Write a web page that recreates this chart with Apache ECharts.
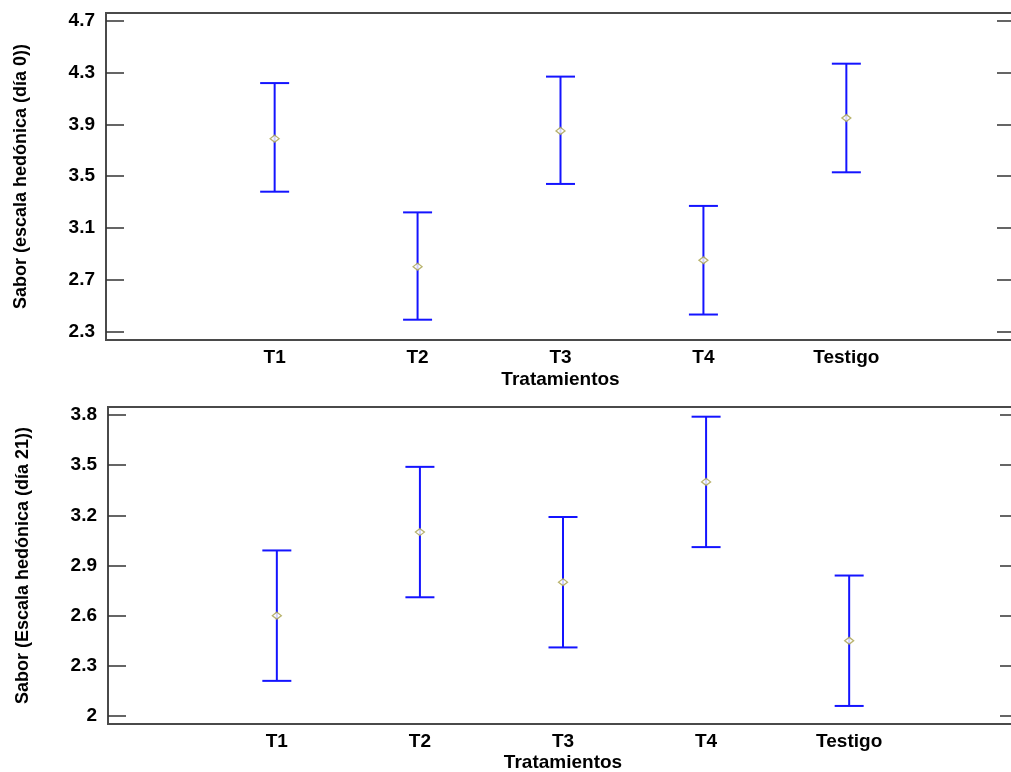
<!DOCTYPE html>
<html>
<head>
<meta charset="utf-8">
<title>Sabor por tratamiento</title>
<script src="https://cdn.jsdelivr.net/npm/echarts@6/dist/echarts.min.js"></script>
<style>
  html, body { margin: 0; padding: 0; background: #fff; overflow: hidden; }
  #chart { width: 1011px; height: 772px; }
</style>
</head>
<body>
<div id="chart"></div>
<script>
// Treatments on the x axis (plotted at positions 1..5)
const categories = ['T1', 'T2', 'T3', 'T4', 'Testigo'];

// Day 0: means and interval limits
const mean0 = [3.79, 2.80, 3.85, 2.85, 3.95];
const low0  = [3.38, 2.39, 3.44, 2.43, 3.53];
const high0 = [4.22, 3.22, 4.27, 3.27, 4.37];

// Day 21: means and interval limits
const mean21 = [2.60, 3.10, 2.80, 3.40, 2.45];
const low21  = [2.21, 2.71, 2.41, 3.01, 2.06];
const high21 = [2.99, 3.49, 3.19, 3.79, 2.84];

// Tick values on each y axis
const ticks0  = [2.3, 2.7, 3.1, 3.5, 3.9, 4.3, 4.7];
const ticks21 = [2.0, 2.3, 2.6, 2.9, 3.2, 3.5, 3.8];

const FONT = "'Liberation Sans', Arial, sans-serif";
const positions = categories.map((_, i) => i + 1);

function xAxisFor(gridIndex, gap) {
  return {
    type: 'value', gridIndex: gridIndex, min: -0.18, max: 6.18,
    name: 'Tratamientos', nameLocation: 'middle', nameGap: gap,
    nameTextStyle: { fontFamily: FONT, fontWeight: 'bold', fontSize: 19, color: '#000' },
    axisLine: { show: false, onZero: false },
    axisTick: { show: false },
    splitLine: { show: false },
    axisLabel: {
      customValues: positions,
      formatter: v => categories[Math.round(v) - 1] || '',
      margin: 8, fontFamily: FONT, fontWeight: 'bold', fontSize: 19, color: '#000'
    }
  };
}

function yAxesFor(gridIndex, min, max, ticks, title) {
  const tick = { show: true, inside: true, length: 18, customValues: ticks,
                 lineStyle: { color: '#333', width: 1.5 } };
  return [
    {
      type: 'value', gridIndex: gridIndex, min: min, max: max, position: 'left',
      name: title, nameLocation: 'middle', nameGap: 76, nameRotate: 90,
      nameTextStyle: { fontFamily: FONT, fontWeight: 'bold', fontSize: 18, color: '#000' },
      axisLine: { show: false, onZero: false },
      axisTick: tick,
      splitLine: { show: false },
      axisLabel: { customValues: ticks, margin: 11, fontFamily: FONT, fontWeight: 'bold', fontSize: 19, color: '#000' }
    },
    {
      type: 'value', gridIndex: gridIndex, min: min, max: max, position: 'right',
      axisLine: { show: false, onZero: false },
      axisTick: tick,
      splitLine: { show: false },
      axisLabel: { show: false }
    }
  ];
}

// Vertical interval with horizontal caps
function intervalSeries(xi, yi, low, high) {
  return {
    type: 'custom', xAxisIndex: xi, yAxisIndex: yi,
    data: positions.map((p, i) => [p, low[i], high[i]]),
    renderItem: (params, api) => {
      const lo = api.coord([api.value(0), api.value(1)]);
      const hi = api.coord([api.value(0), api.value(2)]);
      const w = 14.5;
      const style = { stroke: '#1414ff', lineWidth: 2 };
      return {
        type: 'group',
        children: [
          { type: 'line', shape: { x1: lo[0], y1: lo[1], x2: hi[0], y2: hi[1] }, style: style },
          { type: 'line', shape: { x1: hi[0] - w, y1: hi[1], x2: hi[0] + w, y2: hi[1] }, style: style },
          { type: 'line', shape: { x1: lo[0] - w, y1: lo[1], x2: lo[0] + w, y2: lo[1] }, style: style }
        ]
      };
    },
    z: 2
  };
}

function meanSeries(xi, yi, mean) {
  return {
    type: 'scatter', xAxisIndex: xi, yAxisIndex: yi,
    data: positions.map((p, i) => [p, mean[i]]),
    symbol: 'diamond', symbolSize: [9, 7],
    itemStyle: { color: '#fff', borderColor: '#a8a048', borderWidth: 1.3 },
    z: 3
  };
}

const chart = echarts.init(document.getElementById('chart'), null, { renderer: 'canvas' });
chart.setOption({
  animation: false,
  backgroundColor: '#fff',
  grid: [
    { left: 106, width: 909, top: 13, height: 327, outerBoundsMode: 'none',
      show: true, borderColor: '#4a4a4a', borderWidth: 2 },
    { left: 108, width: 910, top: 407, height: 317, outerBoundsMode: 'none',
      show: true, borderColor: '#4a4a4a', borderWidth: 2 }
  ],
  xAxis: [xAxisFor(0, 30), xAxisFor(1, 29)],
  yAxis: [
    ...yAxesFor(0, 2.233, 4.762, ticks0, 'Sabor (escala hedónica (día 0))'),
    ...yAxesFor(1, 1.952, 3.848, ticks21, 'Sabor (Escala hedónica (día 21))')
  ],
  series: [
    intervalSeries(0, 0, low0, high0),
    meanSeries(0, 0, mean0),
    intervalSeries(1, 2, low21, high21),
    meanSeries(1, 2, mean21)
  ]
});
</script>
</body>
</html>
